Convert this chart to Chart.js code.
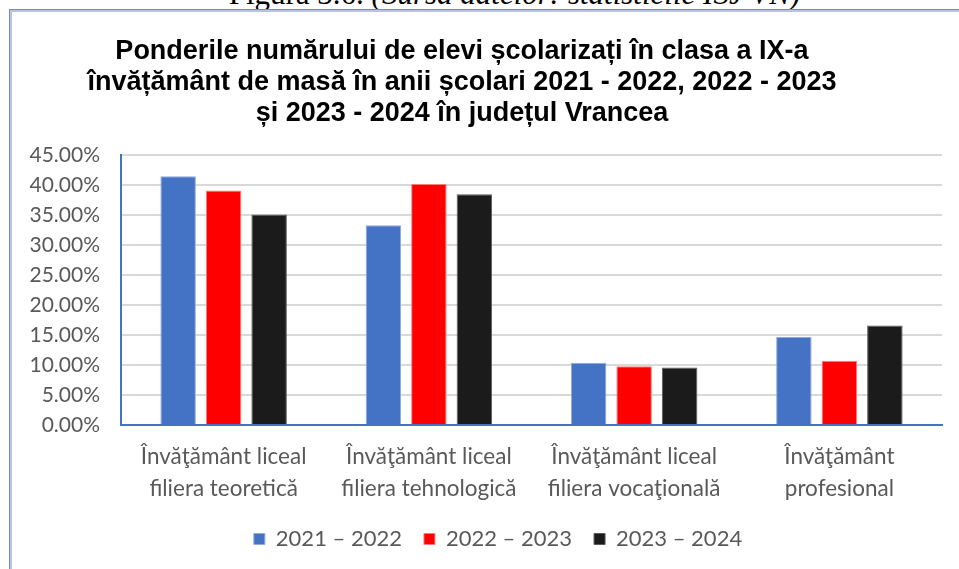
<!DOCTYPE html>
<html>
<head>
<meta charset="utf-8">
<script src="https://cdn.jsdelivr.net/npm/chart.js@4.4.1/dist/chart.umd.min.js"></script>
<style>
  html, body { margin: 0; padding: 0; background: #fff; overflow: hidden; }
  .caption {
    position: absolute; left: 35px; width: 959px; top: -22px; line-height: 31px;
    text-align: center; font-family: 'Liberation Serif', serif; font-size: 31px; color: #000;
    white-space: nowrap;
  }
  .frame {
    position: absolute; left: 9px; top: 9px; width: 960px; height: 570px;
    border-top: 1px solid #8a8a8a; border-left: 1px solid #8a8a8a;
    box-shadow: inset 2px 2px 0 #b4c6e7;
    background: #fff;
  }
  #chart { position: absolute; left: 10px; top: 10px; }
</style>
</head>
<body>
<div class="caption">Figura 3.6. <i>(Sursa datelor: statisticile ISJ VN)</i></div>
<div class="frame"></div>
<canvas id="chart" width="949" height="570"></canvas>
<script>
// Chart data
const categories = [
    ['Învăţământ liceal', 'filiera teoretică'],
    ['Învăţământ liceal', 'filiera tehnologică'],
    ['Învăţământ liceal', 'filiera vocaţională'],
    ['Învăţământ', 'profesional']
];
const seriesNames = ['2021 – 2022', '2022 – 2023', '2023 – 2024'];
const values2021 = [41.5, 33.3, 10.4, 14.7];
const values2022 = [39.1, 40.2, 9.8, 10.7];
const values2023 = [35.1, 38.5, 9.6, 16.6];
const titleLines = [
    'Ponderile numărului de elevi școlarizați în clasa a IX-a',
    'învățământ de masă în anii școlari 2021 - 2022, 2022 - 2023',
    'și 2023 - 2024 în județul Vrancea'
];

const colors = ['#4472C4', '#FF0000', '#1B1B1B'];
const borders = ['#8FAADC', '#FF7C7C', '#5A5A5A'];
const gray = '#595959';

// title and legend are not centred on the same axis in the original
const shiftBlocks = {
    id: 'shiftBlocks',
    afterLayout(chart) {
        const move = (box, dx) => {
            if (!box) return;
            box.left += dx;
            box.right += dx;
        };
        move(chart.titleBlock, -14);
        move(chart.legend, 22);
    }
};

new Chart(document.getElementById('chart'), {
    type: 'bar',
    data: {
        labels: categories,
        datasets: [values2021, values2022, values2023].map((vals, i) => ({
            label: seriesNames[i],
            data: vals,
            backgroundColor: colors[i],
            borderColor: borders[i],
            borderWidth: 1,
            categoryPercentage: 0.665,
            barPercentage: 0.78
        }))
    },
    options: {
        responsive: false,
        animation: false,
        layout: { padding: { left: 0, right: 17, top: 0, bottom: 20 } },
        plugins: {
            title: {
                display: true,
                text: titleLines,
                color: '#000',
                font: { family: 'Liberation Sans', size: 27, weight: 'bold', lineHeight: 1.15 },
                padding: { top: 26, bottom: 26 }
            },
            legend: {
                position: 'bottom',
                labels: {
                    color: gray,
                    font: { family: 'Lato', size: 22 },
                    boxWidth: 11,
                    boxHeight: 11,
                    padding: 22
                }
            },
            tooltip: { enabled: false }
        },
        scales: {
            x: {
                grid: { display: false, drawTicks: false },
                border: { display: true, color: '#4472C4', width: 2 },
                ticks: {
                    color: gray,
                    font: { family: 'Lato', size: 22.5, lineHeight: 1.4 },
                    padding: 16,
                    maxRotation: 0,
                    autoSkip: false
                },
                afterFit(scale) { scale.height = 81; }
            },
            y: {
                min: 0,
                max: 45,
                grid: { color: '#D9D9D9', lineWidth: 2, drawTicks: false },
                border: { display: true, color: '#4472C4', width: 2 },
                ticks: {
                    stepSize: 5,
                    color: gray,
                    font: { family: 'Lato', size: 21 },
                    padding: 21,
                    callback: v => v.toFixed(2) + '%'
                },
                afterFit(scale) { scale.width = 111; }
            }
        }
    },
    plugins: [shiftBlocks]
});
</script>
</body>
</html>
